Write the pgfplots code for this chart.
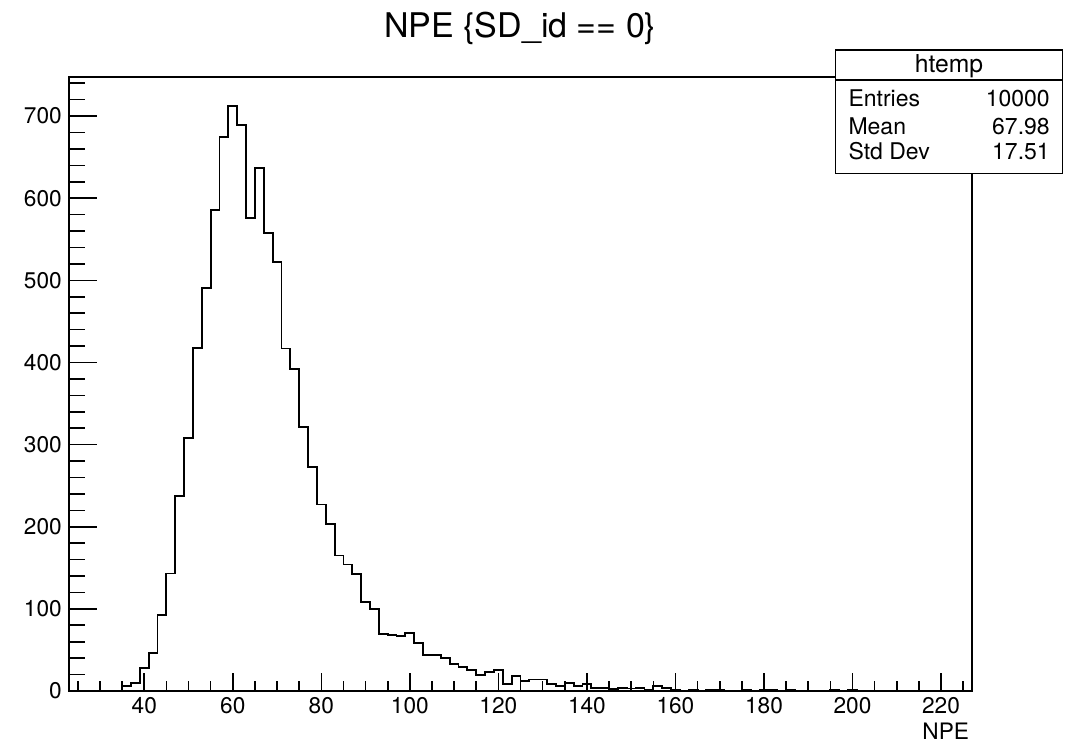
\documentclass[border=0pt]{standalone}
\usepackage{fontspec}
\setmainfont{TeX Gyre Heros}
\usepackage{pgfplots}
\pgfplotsset{compat=1.18}
\usepackage{pgfplotstable}

\pgfplotstableread{
x y
23 0
25 0
27 0
29 0
31 0
33 0
35 6
37 10
39 28
41 46
43 93
45 143
47 237
49 308
51 418
53 491
55 586
57 675
59 712
61 689
63 576
65 637
67 558
69 522
71 417
73 392
75 321
77 273
79 227
81 203
83 165
85 154
87 142
89 108
91 100
93 69
95 68
97 67
99 71
101 58
103 44
105 44
107 40
109 33
111 29
113 26
115 20
117 23
119 26
121 9
123 18
125 12
127 14
129 14
131 8
133 6
135 10
137 6
139 8
141 4
143 4
145 2
147 4
149 3
151 4
153 1
155 6
157 4
159 1
161 0
163 1
165 0
167 1
169 1
171 0
173 0
175 1
177 0
179 1
181 1
183 0
185 1
187 0
189 0
191 0
193 0
195 1
197 0
199 1
201 0
203 0
205 0
207 0
209 0
211 0
213 0
215 0
217 0
219 0
221 0
223 0
225 0
227 0
}\hist

\pgfplotsset{
  rootframe/.style={
    at={(51.75pt,43.5pt)}, anchor=south west,
    scale only axis, width=677.25pt, height=460.5pt,
    xmin=23, xmax=227, ymin=0, ymax=747.6,
    tick align=inside,
    axis line style={line width=1.3pt},
    every tick/.style={black, line width=1.2pt},
    /pgf/number format/assume math mode=true,
    ticklabel style={font=\fontsize{17}{17}\selectfont},
    xticklabel style={inner sep=0pt, anchor=north, yshift=-4.5pt},
    yticklabel style={inner sep=0pt, anchor=east, xshift=-5.25pt},
    scaled ticks=false,
  }
}

\begin{document}
\begin{tikzpicture}
\path[use as bounding box] (0,0) rectangle (808.5pt,561.75pt);
% frame, x ticks and the histogram
\begin{axis}[
  rootframe,
  xtick={20,40,...,240}, minor x tick num=3, xtick pos=bottom,
  ytick=\empty,
  major tick length=13.5pt, minor tick length=7.5pt,
]
\addplot[const plot mark left, line width=1.4pt, black, mark=none] table {\hist};
\end{axis}
% y ticks (longer, as in ROOT)
\begin{axis}[
  rootframe,
  hide x axis,
  ytick={0,100,...,800}, minor y tick num=4, ytick pos=left,
  major tick length=21pt, minor tick length=12pt,
]
\end{axis}
\node[anchor=base, inner sep=0pt, font=\fontsize{25.5}{25.5}\selectfont] at (390.2pt,533.8pt) {NPE \{SD\_id == 0\}};
\draw[fill=white, line width=1.1pt] (626.8pt,431.8pt) rectangle (797pt,524.25pt);
\draw[line width=1.1pt] (626.8pt,501.75pt) -- (797pt,501.75pt);
\node[anchor=base, inner sep=0pt, font=\fontsize{18.5}{18.5}\selectfont] at (711.75pt,507.5pt) {htemp};
\begin{scope}[every node/.style={inner sep=0pt, font=\fontsize{17.25}{17.25}\selectfont}]
\node[anchor=base west] at (636.2pt,481.7pt) {Entries};
\node[anchor=base east] at (787.5pt,481.7pt) {10000};
\node[anchor=base west] at (636.2pt,461pt) {Mean};
\node[anchor=base east] at (787.5pt,461pt) {67.98};
\node[anchor=base west] at (636.2pt,441.75pt) {Std Dev};
\node[anchor=base east] at (787.5pt,441.75pt) {17.51};
\end{scope}
\node[anchor=base east, inner sep=0pt, font=\fontsize{17}{17}\selectfont] at (727pt,6.75pt) {NPE};
\end{tikzpicture}
\end{document}
